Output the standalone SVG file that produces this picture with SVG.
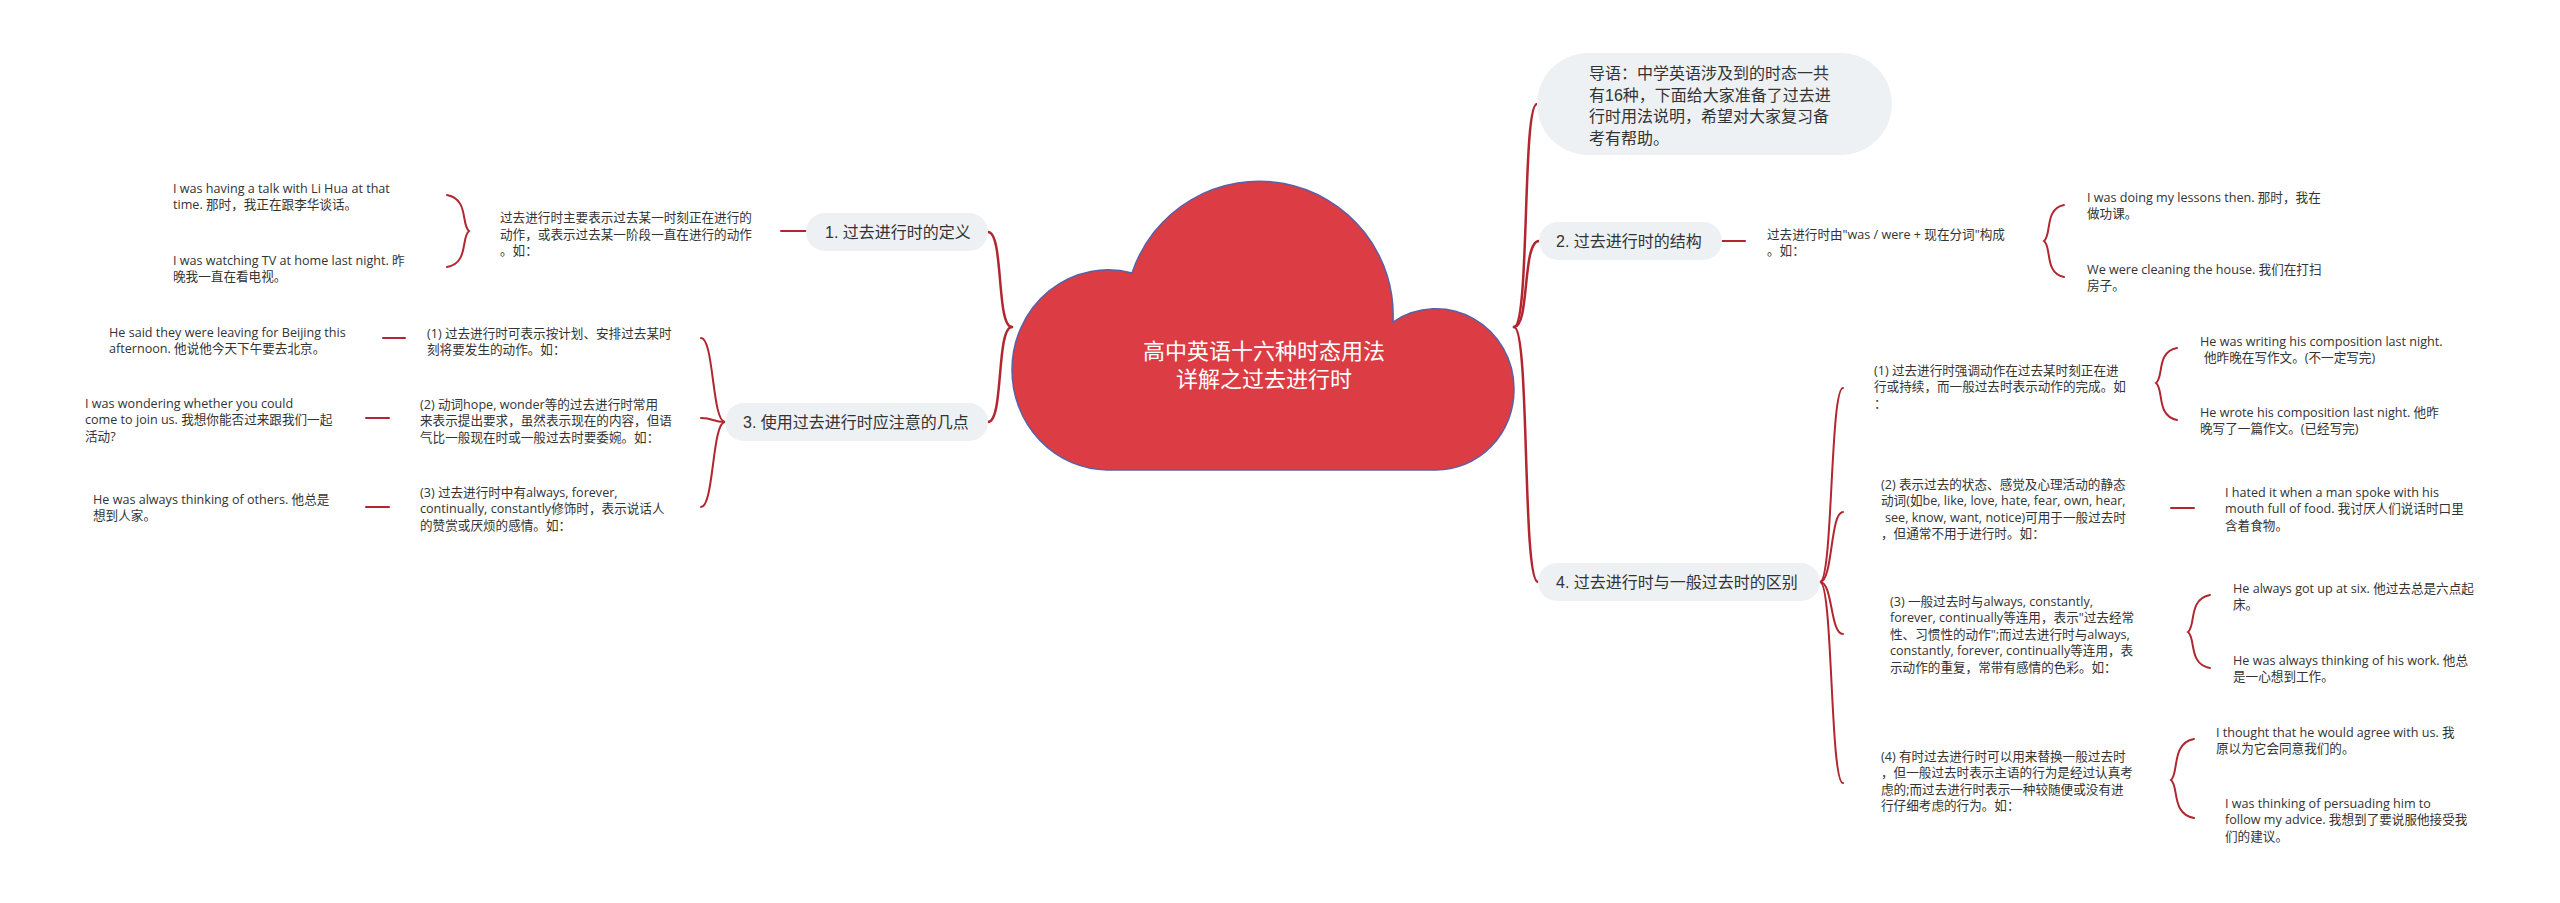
<svg xmlns="http://www.w3.org/2000/svg" width="2560" height="903" viewBox="0 0 2560 903">
<style>
text{font-family:'Liberation Sans','Noto Sans CJK SC',sans-serif;fill:#333333}
.s{font-size:12.6px;font-family:'Open Sans','Noto Sans CJK SC',sans-serif}
.n{font-size:16px}
.t{font-size:22px;fill:#ffffff;text-anchor:middle}
.bub{fill:#eef1f4}
.c{fill:none;stroke:#b22630;stroke-width:2;stroke-linecap:round}
.m{stroke-width:2.5}
</style>
<rect width="2560" height="903" fill="#ffffff"/>
<g id="connectors">
<path class="c m" d="M1514,327 C1530,327 1522,104 1537,104"/>
<path class="c m" d="M1514,327 C1530,327 1522,241 1539,241"/>
<path class="c m" d="M1514,327 C1530,327 1522,582 1538,582"/>
<path class="c m" d="M1012,327 C996,327 1004,232 988,232"/>
<path class="c m" d="M1012,327 C996,327 1004,422 988,422"/>
<path class="c" d="M725,422 C712,422 714,338 701,338"/>
<path class="c" d="M725,422 C712,422 714,418 701,418"/>
<path class="c" d="M725,422 C712,422 714,507 701,507"/>
<path class="c" d="M1820,582 C1833,582 1830,388 1843,388"/>
<path class="c" d="M1820,582 C1833,582 1830,512 1843,512"/>
<path class="c" d="M1820,582 C1833,582 1830,634 1843,634"/>
<path class="c" d="M1820,582 C1833,582 1830,783 1843,783"/>
<path class="c" d="M781,231 L806,231"/>
<path class="c" d="M1722,241 L1745,241"/>
<path class="c" d="M383,338 L405,338"/>
<path class="c" d="M366,418 L389,418"/>
<path class="c" d="M366,507 L389,507"/>
<path class="c" d="M2171,508 L2194,508"/>
<path class="c" d="M447,195 C469,199 461,225 469,231 C461,237 469,263 447,267"/>
<path class="c" d="M2064,205 C2044,209 2052,235 2044,241 C2052,247 2044,273 2064,277"/>
<path class="c" d="M2177,348 C2156,352 2164,377 2156,383 C2164,389 2156,416 2177,420"/>
<path class="c" d="M2210,595 C2188,599 2196,626 2188,632 C2196,638 2188,664 2210,668"/>
<path class="c" d="M2194,739 C2171,743 2179,774 2171,780 C2179,786 2171,814 2194,818"/>
</g>
<g id="root">
<path d="M1107,470 A96,100 0 0 1 1012,370 A96,100 0 0 1 1132,273 A134,134 0 0 1 1393,322 A78,80 0 0 1 1514,390 A78,80 0 0 1 1436,470 Z" fill="#dc3d44" stroke="#5a60a8" stroke-width="1.5"/>
<text class="t" x="1264" y="359">高中英语十六种时态用法</text>
<text class="t" x="1264" y="387">详解之过去进行时</text>
</g>
<g id="intro">
<rect class="bub" x="1537" y="53" width="355" height="102" rx="51"/>
<text class="n" x="1589" y="79">导语：中学英语涉及到的时态一共</text>
<text class="n" x="1589" y="100.5">有16种，下面给大家准备了过去进</text>
<text class="n" x="1589" y="122">行时用法说明，希望对大家复习备</text>
<text class="n" x="1589" y="143.5">考有帮助。</text>
</g>
<g id="node1">
<rect class="bub" x="806" y="213" width="182" height="38" rx="19"/>
<text class="n" x="825" y="237.5">1. 过去进行时的定义</text>
</g>
<g id="node1-desc">
<text class="s" x="500" y="222">过去进行时主要表示过去某一时刻正在进行的</text>
<text class="s" x="500" y="238.5">动作，或表示过去某一阶段一直在进行的动作</text>
<text class="s" x="500" y="255">。如：</text>
</g>
<g id="node1-ex1">
<text class="s" x="173" y="192.5">I was having a talk with Li Hua at that</text>
<text class="s" x="173" y="209">time. 那时，我正在跟李华谈话。</text>
</g>
<g id="node1-ex2">
<text class="s" x="173" y="264.5">I was watching TV at home last night. 昨</text>
<text class="s" x="173" y="281">晚我一直在看电视。</text>
</g>
<g id="node3">
<rect class="bub" x="725" y="403" width="263" height="38" rx="19"/>
<text class="n" x="743" y="427.5">3. 使用过去进行时应注意的几点</text>
</g>
<g id="node3-1">
<text class="s" x="427" y="337.5">(1) 过去进行时可表示按计划、安排过去某时</text>
<text class="s" x="427" y="354">刻将要发生的动作。如：</text>
</g>
<g id="node3-2">
<text class="s" x="420" y="408.5">(2) 动词hope, wonder等的过去进行时常用</text>
<text class="s" x="420" y="425">来表示提出要求，虽然表示现在的内容，但语</text>
<text class="s" x="420" y="441.5">气比一般现在时或一般过去时要委婉。如：</text>
</g>
<g id="node3-3">
<text class="s" x="420" y="496.5">(3) 过去进行时中有always, forever,</text>
<text class="s" x="420" y="513">continually, constantly修饰时，表示说话人</text>
<text class="s" x="420" y="529.5">的赞赏或厌烦的感情。如：</text>
</g>
<g id="node3-1-ex">
<text class="s" x="109" y="336.5">He said they were leaving for Beijing this</text>
<text class="s" x="109" y="353">afternoon. 他说他今天下午要去北京。</text>
</g>
<g id="node3-2-ex">
<text class="s" x="85" y="407.5">I was wondering whether you could</text>
<text class="s" x="85" y="424">come to join us. 我想你能否过来跟我们一起</text>
<text class="s" x="85" y="440.5">活动?</text>
</g>
<g id="node3-3-ex">
<text class="s" x="93" y="503.5">He was always thinking of others. 他总是</text>
<text class="s" x="93" y="520">想到人家。</text>
</g>
<g id="node2">
<rect class="bub" x="1539" y="222" width="183" height="38" rx="19"/>
<text class="n" x="1556" y="246.5">2. 过去进行时的结构</text>
</g>
<g id="node2-desc">
<text class="s" x="1767" y="238.5">过去进行时由"was / were + 现在分词"构成</text>
<text class="s" x="1767" y="255">。如：</text>
</g>
<g id="node2-ex1">
<text class="s" x="2087" y="201.5">I was doing my lessons then. 那时，我在</text>
<text class="s" x="2087" y="218">做功课。</text>
</g>
<g id="node2-ex2">
<text class="s" x="2087" y="273.5">We were cleaning the house. 我们在打扫</text>
<text class="s" x="2087" y="290">房子。</text>
</g>
<g id="node4">
<rect class="bub" x="1538" y="563" width="282" height="38" rx="19"/>
<text class="n" x="1556" y="587.5">4. 过去进行时与一般过去时的区别</text>
</g>
<g id="node4-1">
<text class="s" x="1874" y="374.5">(1) 过去进行时强调动作在过去某时刻正在进</text>
<text class="s" x="1874" y="391">行或持续，而一般过去时表示动作的完成。如</text>
<text class="s" x="1874" y="407.5">：</text>
</g>
<g id="node4-1-ex1">
<text class="s" x="2200" y="345.5">He was writing his composition last night.</text>
<text class="s" x="2204" y="362">他昨晚在写作文。(不一定写完)</text>
</g>
<g id="node4-1-ex2">
<text class="s" x="2200" y="416.5">He wrote his composition last night. 他昨</text>
<text class="s" x="2200" y="433">晚写了一篇作文。(已经写完)</text>
</g>
<g id="node4-2">
<text class="s" x="1881" y="488.5">(2) 表示过去的状态、感觉及心理活动的静态</text>
<text class="s" x="1881" y="505">动词(如be, like, love, hate, fear, own, hear,</text>
<text class="s" x="1885" y="521.5">see, know, want, notice)可用于一般过去时</text>
<text class="s" x="1881" y="538">，但通常不用于进行时。如：</text>
</g>
<g id="node4-2-ex">
<text class="s" x="2225" y="496.5">I hated it when a man spoke with his</text>
<text class="s" x="2225" y="513">mouth full of food. 我讨厌人们说话时口里</text>
<text class="s" x="2225" y="529.5">含着食物。</text>
</g>
<g id="node4-3">
<text class="s" x="1890" y="605.5">(3) 一般过去时与always, constantly,</text>
<text class="s" x="1890" y="622">forever, continually等连用，表示"过去经常</text>
<text class="s" x="1890" y="638.5">性、习惯性的动作";而过去进行时与always,</text>
<text class="s" x="1890" y="655">constantly, forever, continually等连用，表</text>
<text class="s" x="1890" y="671.5">示动作的重复，常带有感情的色彩。如：</text>
</g>
<g id="node4-3-ex1">
<text class="s" x="2233" y="592.5">He always got up at six. 他过去总是六点起</text>
<text class="s" x="2233" y="609">床。</text>
</g>
<g id="node4-3-ex2">
<text class="s" x="2233" y="664.5">He was always thinking of his work. 他总</text>
<text class="s" x="2233" y="681">是一心想到工作。</text>
</g>
<g id="node4-4">
<text class="s" x="1881" y="760.5">(4) 有时过去进行时可以用来替换一般过去时</text>
<text class="s" x="1881" y="777">，但一般过去时表示主语的行为是经过认真考</text>
<text class="s" x="1881" y="793.5">虑的;而过去进行时表示一种较随便或没有进</text>
<text class="s" x="1881" y="810">行仔细考虑的行为。如：</text>
</g>
<g id="node4-4-ex1">
<text class="s" x="2216" y="736.5">I thought that he would agree with us. 我</text>
<text class="s" x="2216" y="753">原以为它会同意我们的。</text>
</g>
<g id="node4-4-ex2">
<text class="s" x="2225" y="807.5">I was thinking of persuading him to</text>
<text class="s" x="2225" y="824">follow my advice. 我想到了要说服他接受我</text>
<text class="s" x="2225" y="840.5">们的建议。</text>
</g>
</svg>
